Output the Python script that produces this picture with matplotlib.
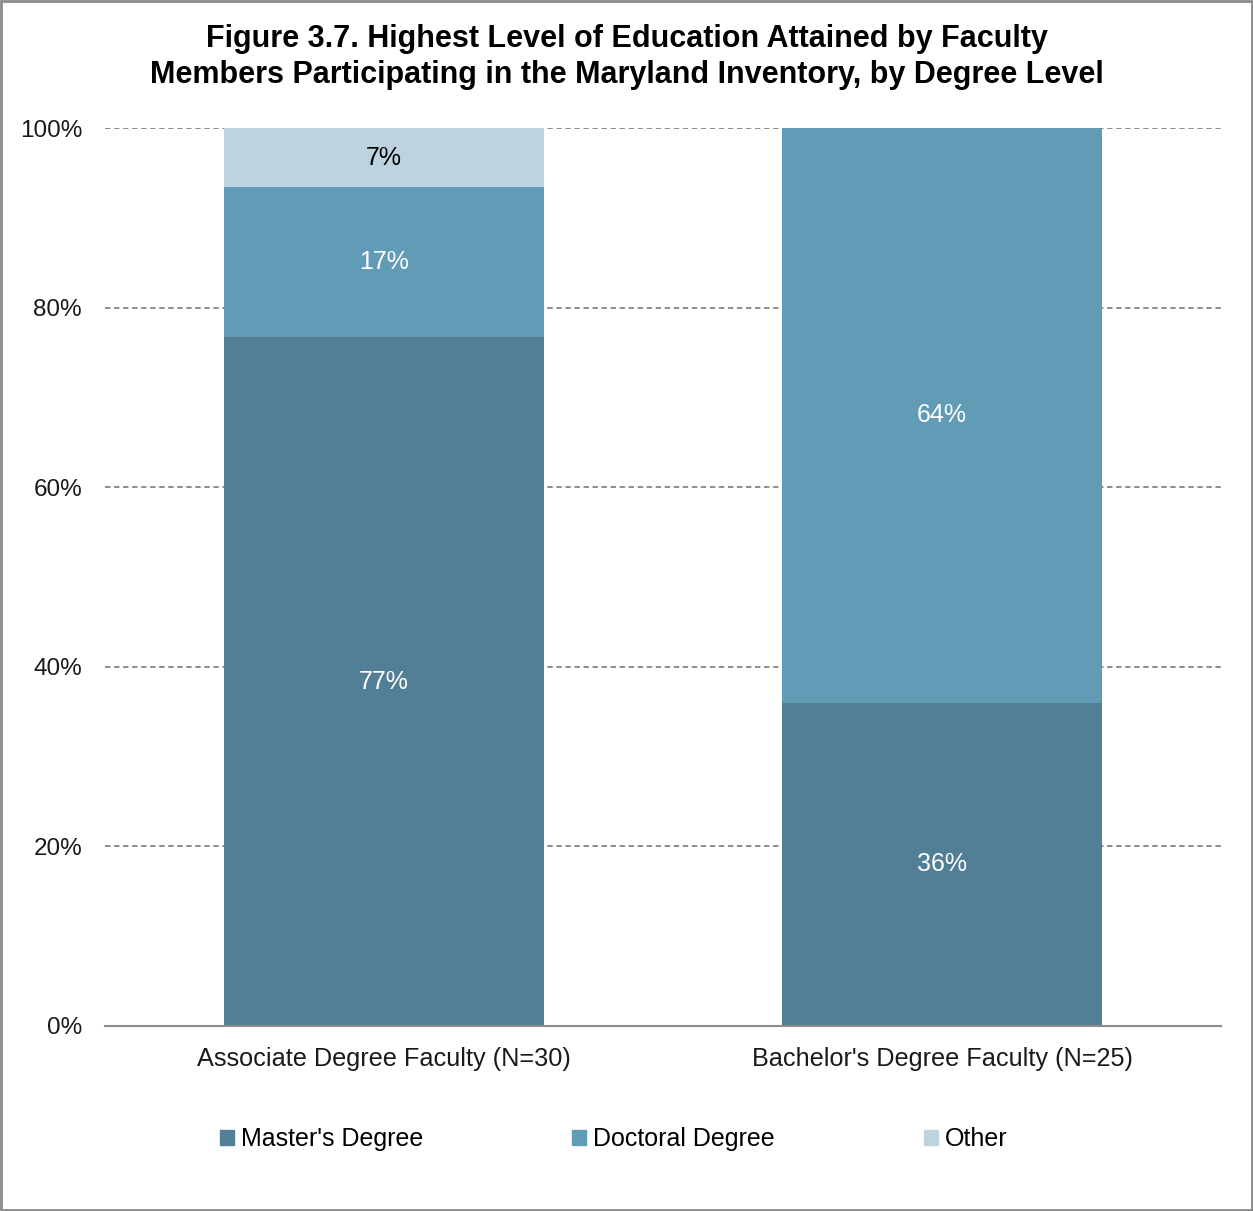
import matplotlib.pyplot as plt
from matplotlib.patches import Rectangle, Patch
import numpy as np

plt.rcParams["font.family"] = ["Liberation Sans", "DejaVu Sans"]

categories = ["Associate Degree Faculty (N=30)", "Bachelor's Degree Faculty (N=25)"]
series = ["Master's Degree", "Doctoral Degree", "Other"]
masters = [76.7, 36.0]
doctoral = [16.7, 64.0]
other = [6.6, 0.0]
colors = ["#527F96", "#629BB6", "#BDD3DF"]
label_colors = ["white", "white", "black"]

fig = plt.figure(figsize=(12.53, 12.11), dpi=100)
ax = fig.add_axes([0.0838, 0.1528, 0.8907, 0.7415])

x = np.arange(len(categories))
bottom = np.zeros(len(categories))
for vals, name, col, lc in zip([masters, doctoral, other], series, colors, label_colors):
    vals = np.array(vals)
    ax.bar(x, vals, 0.572, bottom=bottom, color=col, label=name, zorder=2)
    for xi, v, b in zip(x, vals, bottom):
        if v > 0:
            ax.text(xi, b + v / 2, f"{v:.0f}%", ha="center", va="center",
                    color=lc, fontsize=18, zorder=3)
    bottom += vals

ax.set_xlim(-0.5, 1.5)
ax.set_ylim(0, 100)
ax.set_yticks(np.arange(0, 101, 20))
ax.set_yticklabels([f"{t}%" for t in range(0, 101, 20)])
ax.set_xticks(x)
ax.set_xticklabels(categories)
ax.tick_params(axis="both", length=0, labelsize=18.2, colors="#1a1a1a")
ax.tick_params(axis="y", labelsize=17.5, pad=16.5)
ax.tick_params(axis="x", pad=15)
ax.yaxis.grid(True, linestyle=(0, (3, 2)), color="#858585", linewidth=1.3, zorder=0)
for s in ["left", "right", "top"]:
    ax.spines[s].set_visible(False)
ax.spines["bottom"].set_color("#8c8c8c")
ax.spines["bottom"].set_linewidth(1.5)

fig.suptitle("Figure 3.7. Highest Level of Education Attained by Faculty\n"
             "Members Participating in the Maryland Inventory, by Degree Level",
             fontsize=22, fontweight="bold", y=0.98, x=0.5, linespacing=1.26)

handles = [Patch(color=c) for c in colors]
fig.legend(handles, series, loc="center left", bbox_to_anchor=(0.1755, 0.0595),
           ncol=3, frameon=False, fontsize=18, handlelength=0.55, handleheight=0.55,
           handletextpad=0.3, columnspacing=5.95, borderpad=0, borderaxespad=0)

fig.add_artist(Rectangle((0.001, 0.001), 0.998, 0.998, transform=fig.transFigure,
                         fill=False, edgecolor="#8a8a8a", linewidth=2))

fig.savefig("out.png", dpi=100)
